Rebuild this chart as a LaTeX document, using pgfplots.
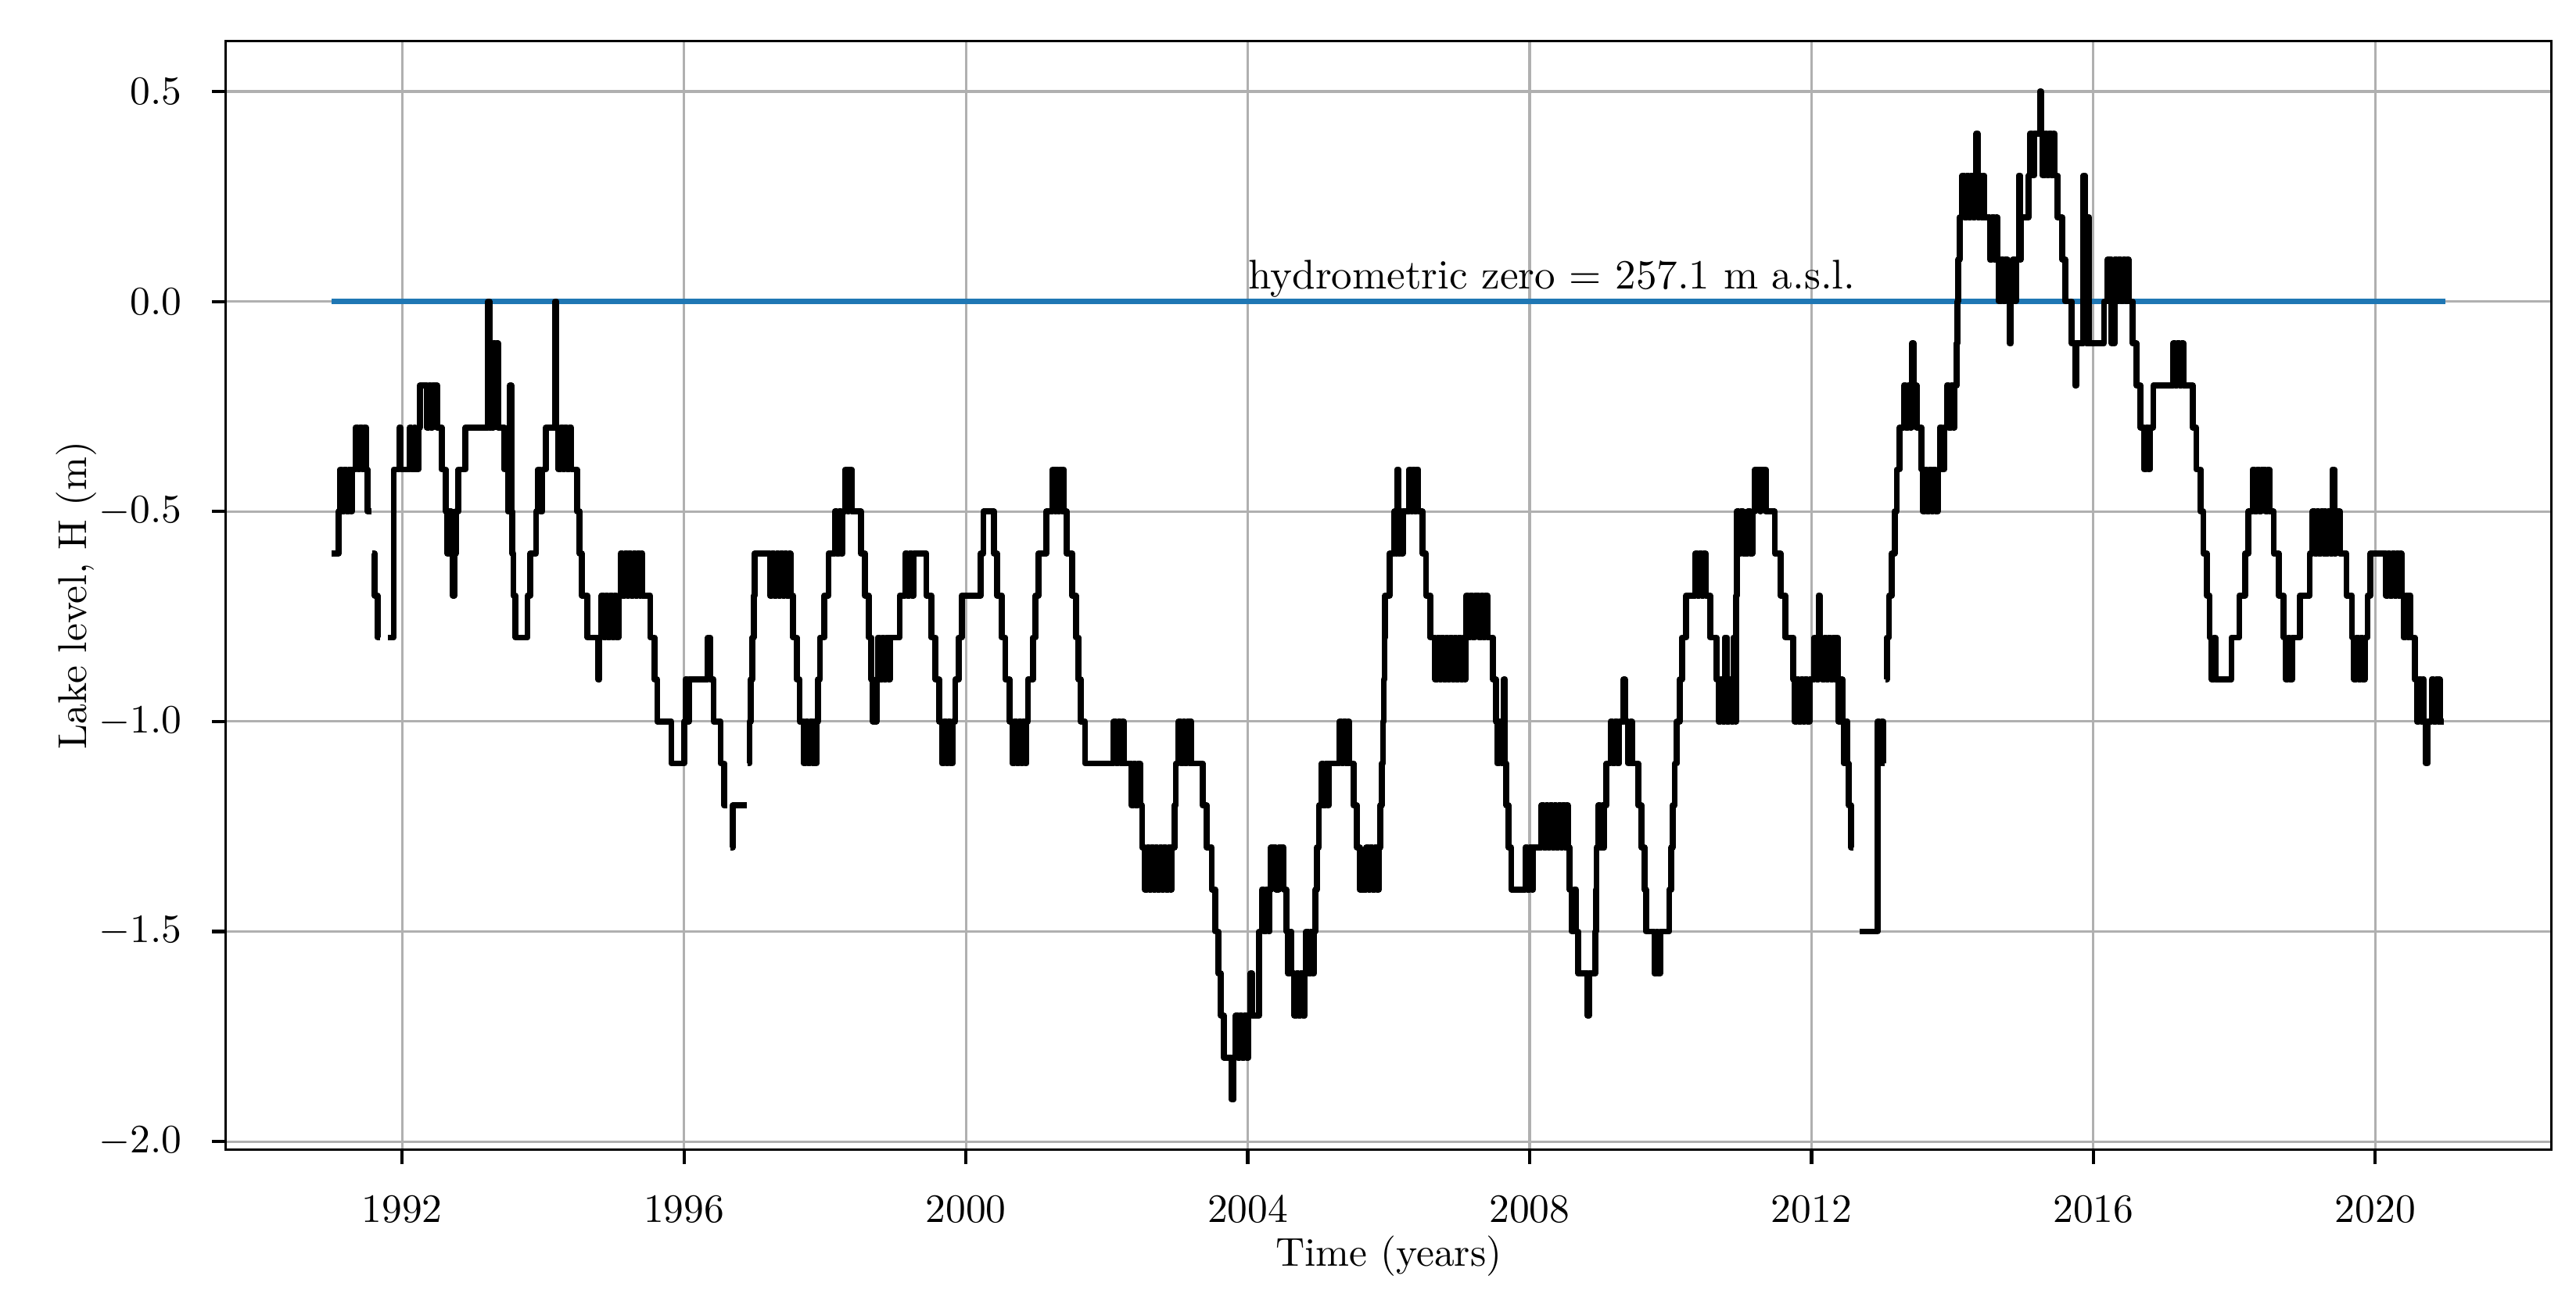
\documentclass[border=0pt]{standalone}
\usepackage{pgfplots}
\pgfplotsset{compat=1.18}
\definecolor{mplblue}{HTML}{1F77B4}
\definecolor{gridgray}{HTML}{B0B0B0}
\pgfplotstableread{
x y
1991.00 -0.6
1991.10 -0.5
1991.12 -0.4
1991.15 -0.5
1991.18 -0.4
1991.21 -0.5
1991.24 -0.4
1991.27 -0.5
1991.29 -0.4
1991.34 -0.3
1991.37 -0.4
1991.40 -0.3
1991.43 -0.4
1991.46 -0.3
1991.49 -0.4
1991.51 -0.5
1991.57 -0.5
1991.575 nan
1991.58 -0.6
1991.61 -0.7
1991.65 -0.8
1991.69 -0.8
1991.70 nan
1991.80 -0.8
1991.88 -0.4
1991.96 -0.3
1991.98 -0.4
1992.11 -0.3
1992.13 -0.4
1992.17 -0.3
1992.19 -0.4
1992.23 -0.3
1992.25 -0.2
1992.35 -0.3
1992.38 -0.2
1992.41 -0.3
1992.43 -0.2
1992.50 -0.3
1992.56 -0.4
1992.62 -0.5
1992.64 -0.6
1992.67 -0.5
1992.70 -0.6
1992.72 -0.7
1992.74 -0.6
1992.76 -0.5
1992.80 -0.4
1992.90 -0.3
1993.22 0.0
1993.24 -0.3
1993.26 -0.1
1993.28 -0.3
1993.30 -0.1
1993.32 -0.2
1993.34 -0.1
1993.36 -0.3
1993.45 -0.4
1993.50 -0.5
1993.53 -0.2
1993.55 -0.5
1993.56 -0.6
1993.58 -0.7
1993.61 -0.8
1993.78 -0.7
1993.82 -0.6
1993.90 -0.5
1993.93 -0.4
1993.96 -0.5
1993.99 -0.4
1994.04 -0.3
1994.17 0.0
1994.19 -0.3
1994.22 -0.4
1994.25 -0.3
1994.28 -0.4
1994.31 -0.3
1994.34 -0.4
1994.37 -0.3
1994.40 -0.4
1994.48 -0.5
1994.52 -0.6
1994.55 -0.7
1994.63 -0.8
1994.78 -0.9
1994.80 -0.8
1994.83 -0.7
1994.86 -0.8
1994.89 -0.7
1994.92 -0.8
1994.95 -0.7
1994.98 -0.8
1995.01 -0.7
1995.04 -0.8
1995.07 -0.7
1995.10 -0.6
1995.13 -0.7
1995.16 -0.6
1995.19 -0.7
1995.22 -0.6
1995.25 -0.7
1995.28 -0.6
1995.31 -0.7
1995.34 -0.6
1995.37 -0.7
1995.39 -0.6
1995.41 -0.7
1995.52 -0.8
1995.58 -0.9
1995.62 -1.0
1995.82 -1.1
1996.00 -1.0
1996.02 -0.9
1996.05 -1.0
1996.07 -0.9
1996.34 -0.8
1996.37 -0.9
1996.42 -1.0
1996.52 -1.1
1996.57 -1.2
1996.61 -1.2
1996.62 nan
1996.66 -1.3
1996.69 -1.2
1996.89 -1.2
1996.895 nan
1996.90 -1.1
1996.93 -1.0
1996.95 -0.9
1996.97 -0.8
1996.99 -0.7
1997.00 -0.6
1997.22 -0.7
1997.25 -0.6
1997.28 -0.7
1997.31 -0.6
1997.34 -0.7
1997.37 -0.6
1997.40 -0.7
1997.43 -0.6
1997.46 -0.7
1997.49 -0.6
1997.51 -0.7
1997.55 -0.8
1997.60 -0.9
1997.64 -1.0
1997.70 -1.1
1997.73 -1.0
1997.76 -1.1
1997.79 -1.0
1997.82 -1.1
1997.85 -1.0
1997.86 -1.1
1997.88 -1.0
1997.90 -0.9
1997.93 -0.8
1997.99 -0.7
1998.05 -0.6
1998.14 -0.5
1998.17 -0.6
1998.20 -0.5
1998.23 -0.6
1998.25 -0.5
1998.29 -0.4
1998.32 -0.5
1998.34 -0.4
1998.38 -0.5
1998.51 -0.6
1998.57 -0.7
1998.62 -0.8
1998.66 -0.9
1998.68 -1.0
1998.73 -0.9
1998.75 -0.8
1998.78 -0.9
1998.81 -0.8
1998.84 -0.9
1998.87 -0.8
1998.90 -0.9
1998.92 -0.8
1999.06 -0.7
1999.14 -0.6
1999.17 -0.7
1999.20 -0.6
1999.23 -0.7
1999.26 -0.6
1999.44 -0.7
1999.51 -0.8
1999.57 -0.9
1999.62 -1.0
1999.66 -1.1
1999.69 -1.0
1999.72 -1.1
1999.75 -1.0
1999.78 -1.1
1999.81 -1.0
1999.85 -0.9
1999.90 -0.8
1999.94 -0.7
2000.21 -0.6
2000.25 -0.5
2000.40 -0.6
2000.44 -0.7
2000.51 -0.8
2000.56 -0.9
2000.62 -1.0
2000.66 -1.1
2000.69 -1.0
2000.72 -1.1
2000.75 -1.0
2000.78 -1.1
2000.81 -1.0
2000.84 -1.1
2000.86 -1.0
2000.88 -0.9
2000.95 -0.8
2000.99 -0.7
2001.03 -0.6
2001.14 -0.5
2001.23 -0.4
2001.26 -0.5
2001.28 -0.4
2001.31 -0.5
2001.33 -0.4
2001.36 -0.5
2001.37 -0.4
2001.39 -0.5
2001.43 -0.6
2001.51 -0.7
2001.56 -0.8
2001.60 -0.9
2001.63 -1.0
2001.69 -1.1
2002.10 -1.0
2002.13 -1.1
2002.16 -1.0
2002.19 -1.1
2002.22 -1.0
2002.24 -1.1
2002.35 -1.2
2002.38 -1.1
2002.41 -1.2
2002.44 -1.1
2002.47 -1.2
2002.50 -1.3
2002.54 -1.4
2002.57 -1.3
2002.60 -1.4
2002.63 -1.3
2002.66 -1.4
2002.69 -1.3
2002.72 -1.4
2002.75 -1.3
2002.78 -1.4
2002.81 -1.3
2002.84 -1.4
2002.87 -1.3
2002.90 -1.4
2002.92 -1.3
2002.96 -1.2
2002.98 -1.1
2003.02 -1.0
2003.05 -1.1
2003.08 -1.0
2003.11 -1.1
2003.14 -1.0
2003.17 -1.1
2003.19 -1.0
2003.20 -1.1
2003.36 -1.2
2003.42 -1.3
2003.49 -1.4
2003.54 -1.5
2003.58 -1.6
2003.62 -1.7
2003.66 -1.8
2003.77 -1.9
2003.80 -1.8
2003.83 -1.7
2003.86 -1.8
2003.89 -1.7
2003.92 -1.8
2003.95 -1.7
2003.98 -1.8
2004.01 -1.7
2004.04 -1.6
2004.06 -1.7
2004.16 -1.5
2004.20 -1.4
2004.23 -1.5
2004.26 -1.4
2004.29 -1.5
2004.31 -1.4
2004.33 -1.3
2004.40 -1.4
2004.44 -1.3
2004.51 -1.4
2004.55 -1.5
2004.57 -1.6
2004.60 -1.5
2004.62 -1.6
2004.66 -1.7
2004.69 -1.6
2004.72 -1.7
2004.75 -1.6
2004.78 -1.7
2004.81 -1.6
2004.83 -1.5
2004.86 -1.6
2004.89 -1.5
2004.92 -1.6
2004.94 -1.5
2004.96 -1.4
2004.98 -1.3
2005.01 -1.2
2005.05 -1.1
2005.07 -1.2
2005.10 -1.1
2005.13 -1.2
2005.15 -1.1
2005.30 -1.0
2005.33 -1.1
2005.36 -1.0
2005.39 -1.1
2005.42 -1.0
2005.44 -1.1
2005.50 -1.2
2005.55 -1.3
2005.59 -1.4
2005.68 -1.3
2005.71 -1.4
2005.74 -1.3
2005.77 -1.4
2005.80 -1.3
2005.83 -1.4
2005.86 -1.3
2005.88 -1.2
2005.90 -1.1
2005.92 -1.0
2005.93 -0.9
2005.94 -0.8
2005.95 -0.7
2006.01 -0.6
2006.08 -0.5
2006.10 -0.6
2006.12 -0.4
2006.14 -0.6
2006.16 -0.5
2006.18 -0.6
2006.20 -0.5
2006.29 -0.4
2006.32 -0.5
2006.34 -0.4
2006.37 -0.5
2006.39 -0.4
2006.42 -0.5
2006.48 -0.6
2006.53 -0.7
2006.59 -0.8
2006.66 -0.9
2006.69 -0.8
2006.72 -0.9
2006.75 -0.8
2006.78 -0.9
2006.81 -0.8
2006.84 -0.9
2006.87 -0.8
2006.90 -0.9
2006.93 -0.8
2006.96 -0.9
2006.99 -0.8
2007.02 -0.9
2007.05 -0.8
2007.08 -0.9
2007.09 -0.8
2007.10 -0.7
2007.13 -0.8
2007.16 -0.7
2007.19 -0.8
2007.22 -0.7
2007.28 -0.8
2007.31 -0.7
2007.34 -0.8
2007.37 -0.7
2007.40 -0.8
2007.48 -0.9
2007.52 -1.0
2007.54 -1.1
2007.57 -1.0
2007.60 -1.1
2007.63 -0.9
2007.65 -1.1
2007.67 -1.2
2007.70 -1.3
2007.74 -1.4
2007.94 -1.3
2007.97 -1.4
2008.00 -1.3
2008.03 -1.4
2008.05 -1.3
2008.17 -1.2
2008.20 -1.3
2008.23 -1.2
2008.26 -1.3
2008.29 -1.2
2008.32 -1.3
2008.35 -1.2
2008.38 -1.3
2008.41 -1.2
2008.44 -1.3
2008.47 -1.2
2008.50 -1.3
2008.52 -1.2
2008.54 -1.3
2008.57 -1.4
2008.60 -1.5
2008.63 -1.4
2008.66 -1.5
2008.69 -1.6
2008.82 -1.7
2008.84 -1.6
2008.93 -1.5
2008.94 -1.4
2008.95 -1.3
2008.97 -1.2
2009.00 -1.3
2009.03 -1.2
2009.05 -1.3
2009.06 -1.2
2009.09 -1.1
2009.15 -1.0
2009.18 -1.1
2009.21 -1.0
2009.24 -1.1
2009.27 -1.0
2009.33 -0.9
2009.35 -1.0
2009.40 -1.1
2009.43 -1.0
2009.45 -1.1
2009.54 -1.2
2009.59 -1.3
2009.63 -1.4
2009.65 -1.5
2009.77 -1.6
2009.80 -1.5
2009.82 -1.6
2009.85 -1.5
2009.98 -1.4
2010.01 -1.3
2010.03 -1.2
2010.06 -1.1
2010.09 -1.0
2010.13 -0.9
2010.16 -0.8
2010.22 -0.7
2010.35 -0.6
2010.38 -0.7
2010.41 -0.6
2010.44 -0.7
2010.47 -0.6
2010.50 -0.7
2010.56 -0.8
2010.65 -0.9
2010.68 -1.0
2010.71 -0.9
2010.74 -1.0
2010.77 -0.8
2010.80 -1.0
2010.83 -0.9
2010.86 -1.0
2010.89 -0.8
2010.92 -1.0
2010.93 -0.7
2010.94 -0.5
2010.97 -0.6
2011.00 -0.5
2011.03 -0.6
2011.10 -0.5
2011.13 -0.6
2011.16 -0.5
2011.20 -0.4
2011.27 -0.5
2011.28 -0.4
2011.35 -0.5
2011.48 -0.6
2011.56 -0.7
2011.63 -0.8
2011.74 -0.9
2011.76 -1.0
2011.79 -0.9
2011.82 -1.0
2011.85 -0.9
2011.88 -1.0
2011.91 -0.9
2011.94 -1.0
2011.97 -0.9
2012.04 -0.8
2012.07 -0.9
2012.10 -0.7
2012.12 -0.8
2012.15 -0.9
2012.18 -0.8
2012.21 -0.9
2012.24 -0.8
2012.27 -0.9
2012.30 -0.8
2012.33 -0.9
2012.35 -0.8
2012.37 -0.9
2012.38 -1.0
2012.41 -0.9
2012.44 -1.0
2012.46 -1.1
2012.49 -1.0
2012.51 -1.1
2012.53 -1.2
2012.56 -1.3
2012.59 -1.3
2012.60 nan
2012.68 -1.5
2012.94 -1.0
2012.96 -1.1
2012.99 -1.0
2013.02 -1.1
2013.04 -1.1
2013.045 nan
2013.05 -0.9
2013.07 -0.8
2013.10 -0.7
2013.14 -0.6
2013.18 -0.5
2013.21 -0.4
2013.25 -0.3
2013.31 -0.2
2013.34 -0.3
2013.37 -0.2
2013.40 -0.3
2013.42 -0.2
2013.43 -0.1
2013.45 -0.2
2013.49 -0.3
2013.56 -0.4
2013.58 -0.5
2013.61 -0.4
2013.64 -0.5
2013.67 -0.4
2013.70 -0.5
2013.73 -0.4
2013.76 -0.5
2013.79 -0.4
2013.82 -0.3
2013.85 -0.4
2013.88 -0.3
2013.92 -0.2
2013.95 -0.3
2013.98 -0.2
2014.01 -0.3
2014.03 -0.2
2014.06 -0.1
2014.07 0.0
2014.08 0.1
2014.10 0.2
2014.14 0.3
2014.17 0.2
2014.20 0.3
2014.23 0.2
2014.26 0.3
2014.29 0.2
2014.32 0.3
2014.34 0.4
2014.36 0.2
2014.38 0.3
2014.41 0.2
2014.43 0.3
2014.45 0.2
2014.53 0.1
2014.56 0.2
2014.59 0.1
2014.62 0.2
2014.64 0.1
2014.66 0.0
2014.69 0.1
2014.72 0.0
2014.75 0.1
2014.78 0.0
2014.81 -0.1
2014.83 0.0
2014.86 0.1
2014.88 0.0
2014.90 0.1
2014.94 0.3
2014.96 0.1
2014.97 0.2
2015.08 0.3
2015.10 0.4
2015.13 0.3
2015.16 0.4
2015.24 0.5
2015.26 0.4
2015.28 0.3
2015.31 0.4
2015.34 0.3
2015.37 0.4
2015.40 0.3
2015.43 0.4
2015.45 0.3
2015.49 0.2
2015.56 0.1
2015.60 0.0
2015.69 -0.1
2015.74 -0.2
2015.76 -0.1
2015.86 0.3
2015.88 0.2
2015.90 -0.1
2015.92 0.2
2015.94 -0.1
2016.15 0.0
2016.20 0.1
2016.22 0.0
2016.24 0.1
2016.26 -0.1
2016.30 0.1
2016.33 0.0
2016.36 0.1
2016.39 0.0
2016.42 0.1
2016.45 0.0
2016.48 0.1
2016.50 0.0
2016.56 -0.1
2016.61 -0.2
2016.67 -0.3
2016.72 -0.4
2016.75 -0.3
2016.78 -0.4
2016.80 -0.3
2016.85 -0.2
2017.13 -0.1
2017.16 -0.2
2017.19 -0.1
2017.22 -0.2
2017.25 -0.1
2017.28 -0.2
2017.41 -0.3
2017.46 -0.4
2017.52 -0.5
2017.56 -0.6
2017.61 -0.7
2017.65 -0.8
2017.68 -0.9
2017.71 -0.8
2017.73 -0.9
2017.96 -0.8
2018.07 -0.7
2018.15 -0.6
2018.20 -0.5
2018.26 -0.4
2018.29 -0.5
2018.32 -0.4
2018.35 -0.5
2018.38 -0.4
2018.44 -0.5
2018.47 -0.4
2018.50 -0.5
2018.56 -0.6
2018.63 -0.7
2018.70 -0.8
2018.73 -0.9
2018.76 -0.8
2018.79 -0.9
2018.82 -0.8
2018.93 -0.7
2019.07 -0.6
2019.11 -0.5
2019.14 -0.6
2019.17 -0.5
2019.20 -0.6
2019.23 -0.5
2019.26 -0.6
2019.28 -0.5
2019.30 -0.6
2019.33 -0.5
2019.36 -0.6
2019.39 -0.4
2019.42 -0.6
2019.44 -0.5
2019.50 -0.6
2019.59 -0.7
2019.67 -0.8
2019.70 -0.9
2019.73 -0.8
2019.76 -0.9
2019.79 -0.8
2019.82 -0.9
2019.85 -0.8
2019.89 -0.7
2019.93 -0.6
2020.15 -0.7
2020.18 -0.6
2020.21 -0.7
2020.24 -0.6
2020.27 -0.7
2020.30 -0.6
2020.33 -0.7
2020.35 -0.6
2020.37 -0.7
2020.40 -0.8
2020.43 -0.7
2020.46 -0.8
2020.48 -0.7
2020.50 -0.8
2020.56 -0.9
2020.59 -1.0
2020.62 -0.9
2020.65 -1.0
2020.67 -0.9
2020.69 -1.0
2020.72 -1.1
2020.74 -1.0
2020.80 -0.9
2020.83 -1.0
2020.86 -0.9
2020.89 -1.0
2020.91 -0.9
2020.92 -1.0
2020.97 -1.0
}\levels
\begin{document}
\begin{tikzpicture}
\begin{axis}[
  at={(0,0)}, anchor=south west,
  scale only axis, width=577.4pt, height=275.4pt,
  xmin=1989.5, xmax=2022.5, ymin=-2.02, ymax=0.62,
  xtick={1992,1996,2000,2004,2008,2012,2016,2020},
  ytick={-2,-1.5,-1,-0.5,0,0.5},
  x tick label style={/pgf/number format/1000 sep={}, yshift=-4.6pt},
  y tick label style={/pgf/number format/fixed, /pgf/number format/fixed zerofill, /pgf/number format/precision=1, xshift=-3.9pt},
  tick align=outside, tick pos=left, major tick length=3.5pt,
  every tick/.style={black, line width=0.8pt},
  axis line style={line width=0.6pt},
  grid=major, grid style={gridgray, line width=0.6pt},
  xlabel={Time (years)}, ylabel={Lake level, H (m)},
  xlabel style={at={(axis description cs:0.5,-0.105)}, anchor=base},
  ylabel style={at={(axis description cs:-0.06,0.5)}, anchor=base},
  unbounded coords=jump,
]
\addplot[mplblue, line width=1.5pt] coordinates {(1991.0,0) (2021.0,0)};
\addplot[black, line width=1.5pt, const plot, line join=round] table[x=x, y=y] {\levels};
\node[anchor=base west, inner sep=0pt, font=\fontsize{10.3}{12}\selectfont] at (axis cs:2004,0.03) {hydrometric zero = 257.1 m a.s.l.};
\end{axis}
\pgfresetboundingbox
\path[use as bounding box] (-56.1pt,-36.4pt) rectangle (583.5pt,285.6pt);
\end{tikzpicture}
\end{document}
